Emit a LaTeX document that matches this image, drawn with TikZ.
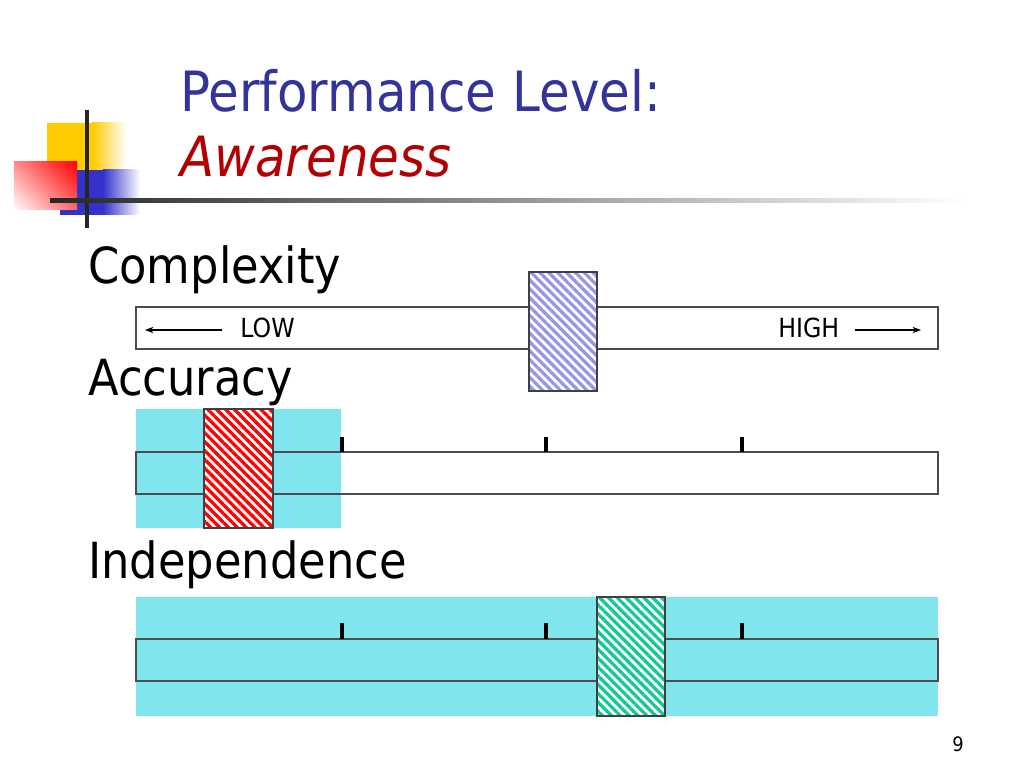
\documentclass[tikz,border=0pt]{standalone}
\usepackage{fontspec}
\setmainfont{DejaVu Sans}[FakeStretch=0.9]
\usepackage{tikz}
\usetikzlibrary{arrows.meta}
\usetikzlibrary{patterns.meta}
\usetikzlibrary{shadings}
\definecolor{titleblue}{RGB}{51,51,153}
\definecolor{awarered}{RGB}{178,0,0}
\definecolor{bandcyan}{RGB}{128,229,236}
\definecolor{hatchblue}{RGB}{150,150,228}
\definecolor{hatchred}{RGB}{255,0,0}
\definecolor{hatchgreen}{RGB}{20,200,150}
\definecolor{logoyellow}{RGB}{255,204,0}
\definecolor{logoblue}{RGB}{51,51,204}
\newcommand{\hatchdist}{4.4pt}
\newcommand{\hatchwidth}{2.3pt}
\tikzset{
    txt/.style={anchor=base west, inner sep=0pt},
    heading/.style={txt, text=titleblue, font=\fontsize{39}{47}\selectfont},
    topic/.style={txt, text=awarered, font=\fontsize{39}{47}\selectfont\itshape},
    dimension/.style={txt, font=\fontsize{35}{42}\selectfont},
    endlabel/.style={txt, font=\fontsize{18.5}{22}\selectfont},
    pagenum/.style={anchor=base, inner sep=0pt, font=\fontsize{14}{17}\selectfont},
    band/.style={fill=bandcyan},
    bar/.style={draw=black!70, line width=0.9pt},
    tick/.style={line width=2.2pt},
    scalearrow/.style={-{Stealth[length=6pt,width=4.5pt]}, line width=0.8pt},
    hatch/.style={draw=black!75, line width=0.8pt, preaction={fill=white},
        pattern={Lines[angle=-45,distance=\hatchdist,line width=\hatchwidth]}, pattern color=#1}
}

\begin{document}
\begin{tikzpicture}[x=0.703125pt, y=-0.703125pt]
    \useasboundingbox (0,0) rectangle (1024,768);

    % logo
    \fill[logoyellow] (47,123) rectangle (92,172);
    \shade[left color=logoyellow, right color=white] (92,123) rectangle (126,172);
    \fill[logoblue] (60,170) rectangle (103,215);
    \shade[left color=logoblue, right color=white] (103,170) rectangle (140,215);
    \shade[upper right=red, upper left=red!45, lower right=red!60, lower left=white] (14,162) rectangle (77,210);
    \draw[line width=2.8pt, black!85] (87,110) -- (87,228);
    \shade[left color=black!85, right color=white] (50,199) rectangle (965,203);

    % title
    \node[heading] (title) at (180,112) {Performance Level:};
    \node[topic] (level) at (180,177) {Awareness};

    % complexity
    \node[dimension] (complexity) at (88,284) {Complexity};
    \draw[bar] (136,307) rectangle (938,349);
    \node[endlabel] (low) at (240,338) {LOW};
    \node[endlabel] (high) at (778,338) {HIGH};
    \coordinate (lowtail) at (222,330);
    \coordinate (lowtip) at (145,330);
    \coordinate (hightail) at (855,330);
    \coordinate (hightip) at (921,330);
    \draw[scalearrow] (lowtail) -- (lowtip);
    \draw[scalearrow] (hightail) -- (hightip);
    \draw[hatch=hatchblue] (529,272) rectangle (597,391);

    % accuracy
    \node[dimension] (accuracy) at (88,395) {Accuracy};
    \fill[band] (136,409) rectangle (341,528);
    \draw[bar] (136,452) rectangle (938,494);
    \foreach \tx in {342,546,742}
        \draw[tick] (\tx,437) -- (\tx,452);
    \draw[hatch=hatchred] (204,409) rectangle (273,528);

    % independence
    \node[dimension] (independence) at (88,578) {Independence};
    \fill[band] (136,597) rectangle (938,716);
    \draw[bar] (136,639) rectangle (938,681);
    \foreach \tx in {342,546,742}
        \draw[tick] (\tx,623) -- (\tx,639);
    \draw[hatch=hatchgreen] (597,597) rectangle (665,716);

    \node[pagenum] (page) at (958,751) {9};
\end{tikzpicture}
\end{document}
